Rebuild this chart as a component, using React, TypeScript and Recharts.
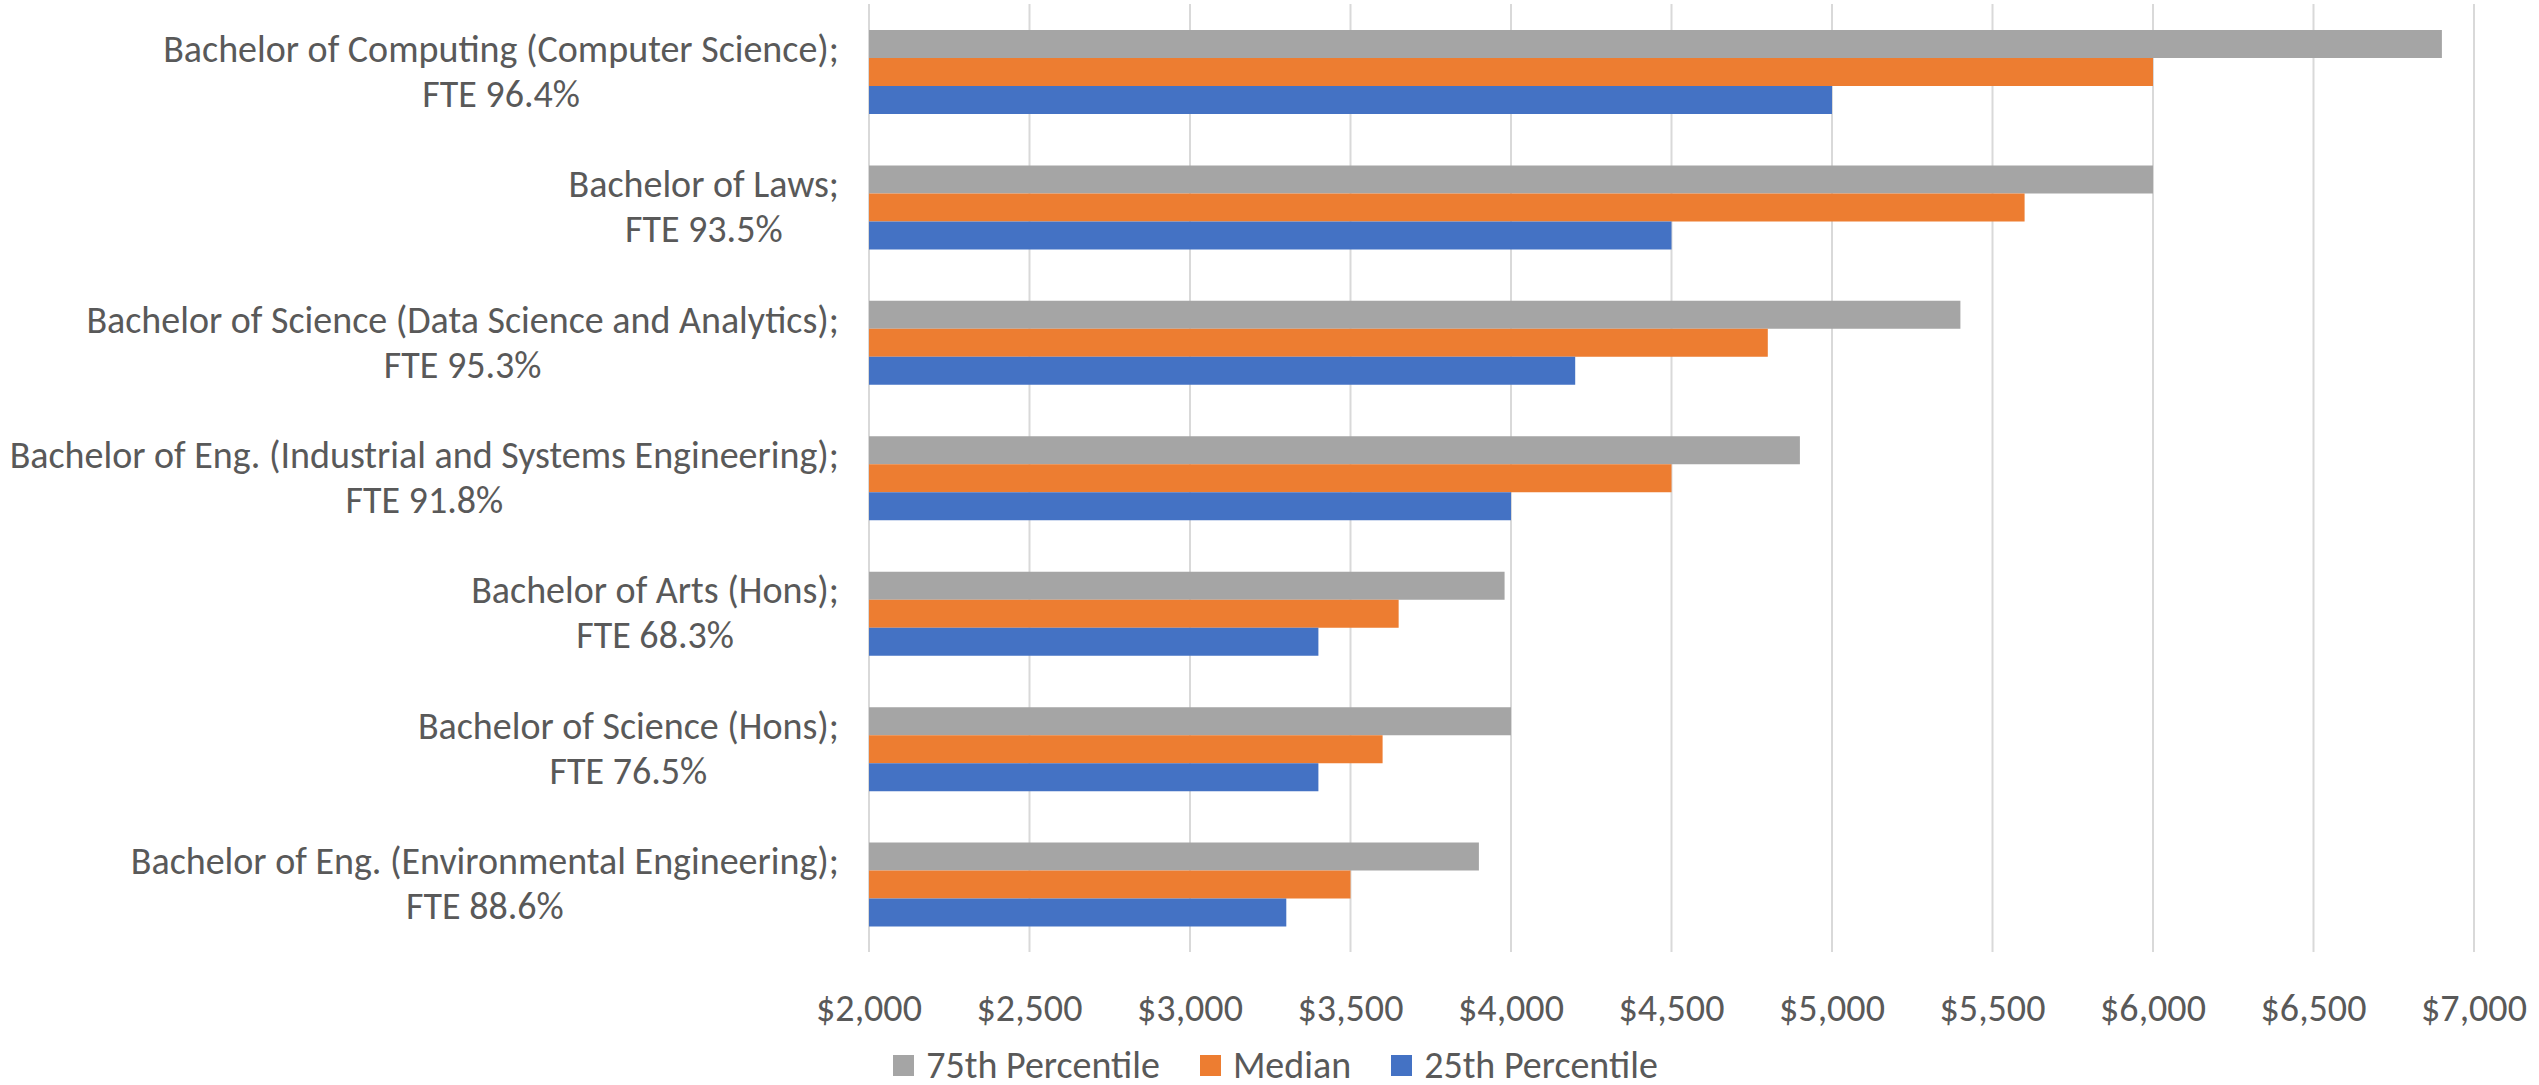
import React from 'react';
import { BarChart, Bar, XAxis, YAxis, CartesianGrid, Legend } from 'recharts';

const FONT = "Carlito, Calibri, 'Liberation Sans Narrow', 'DejaVu Sans Condensed', Lato, sans-serif";
const TEXT = '#595959';
const FS = 38;

// programmes and their full-time employment rates (top to bottom)
const programmes = [
  'Bachelor of Computing (Computer Science)',
  'Bachelor of Laws',
  'Bachelor of Science (Data Science and Analytics)',
  'Bachelor of Eng. (Industrial and Systems Engineering)',
  'Bachelor of Arts (Hons)',
  'Bachelor of Science (Hons)',
  'Bachelor of Eng. (Environmental Engineering)',
];
const fteRates = ['96.4%', '93.5%', '95.3%', '91.8%', '68.3%', '76.5%', '88.6%'];

// gross monthly salary
const p75 = [6900, 6000, 5400, 4900, 3980, 4000, 3900];
const median = [6000, 5600, 4800, 4500, 3650, 3600, 3500];
const p25 = [5000, 4500, 4200, 4000, 3400, 3400, 3300];

const xTicks = [2000, 2500, 3000, 3500, 4000, 4500, 5000, 5500, 6000, 6500, 7000];

const series = [
  { key: 'p75', name: '75th Percentile', color: '#A5A5A5' },
  { key: 'median', name: 'Median', color: '#ED7D31' },
  { key: 'p25', name: '25th Percentile', color: '#4472C4' },
];

const data = programmes.map((name, i) => ({
  name,
  fte: fteRates[i],
  p75: p75[i],
  median: median[i],
  p25: p25[i],
}));

let ctx: CanvasRenderingContext2D | null = null;
const measure = (s: string, size: number) => {
  if (!ctx) ctx = document.createElement('canvas').getContext('2d');
  if (!ctx) return s.length * size * 0.45;
  ctx.font = `${size}px ${FONT}`;
  return ctx.measureText(s).width;
};

const ProgrammeTick = (props: any) => {
  const { x, y, payload } = props;
  const i = programmes.indexOf(payload.value);
  const lines = [payload.value + ';', 'FTE ' + fteRates[i]];
  const w = Math.max(...lines.map((l) => measure(l, FS)));
  const cx = x - w / 2;
  return (
    <g>
      <text x={cx} y={y - 10} textAnchor="middle" fill={TEXT} fontSize={FS} fontFamily={FONT}>
        {lines[0]}
      </text>
      <text x={cx} y={y + 35} textAnchor="middle" fill={TEXT} fontSize={FS} fontFamily={FONT}>
        {lines[1]}
      </text>
    </g>
  );
};

const money = (v: number) => '$' + v.toLocaleString('en-US');

const LegendBox = () => (
  <div style={{ display: 'flex', justifyContent: 'center', paddingLeft: 52, paddingTop: 20, fontFamily: FONT, fontSize: FS, color: TEXT, lineHeight: '40px' }}>
    {series.map((s) => (
      <div key={s.key} style={{ display: 'flex', alignItems: 'center', marginRight: 40 }}>
        <span style={{ display: 'inline-block', width: 21, height: 21, background: s.color, marginRight: 12 }} />
        <span>{s.name}</span>
      </div>
    ))}
  </div>
);

export default function App() {
  return (
    <div style={{ width: 2539, height: 1085, background: '#fff' }}>
      <style>{'body{margin:0}'}</style>
      <BarChart
        width={2539}
        height={1085}
        data={data}
        layout="vertical"
        margin={{ top: 4, right: 65, left: 0, bottom: 0 }}
        barGap={0}
      >
        <CartesianGrid horizontal={false} stroke="#D9D9D9" strokeWidth={2} />
        <XAxis
          type="number"
          domain={[2000, 7000]}
          ticks={xTicks}
          allowDataOverflow
          tickFormatter={money}
          axisLine={false}
          tickLine={false}
          tickSize={0}
          tickMargin={42}
          height={73}
          tick={{ fill: TEXT, fontSize: FS, fontFamily: FONT }}
        />
        <YAxis
          type="category"
          dataKey="name"
          width={869}
          axisLine={false}
          tickLine={false}
          tickSize={0}
          tickMargin={30}
          tick={<ProgrammeTick />}
          interval={0}
        />
        <Legend verticalAlign="bottom" height={60} content={<LegendBox />} wrapperStyle={{ left: 0, width: 2539 }} />
        {series.map((s) => (
          <Bar key={s.key} dataKey={s.key} name={s.name} fill={s.color} barSize={28} isAnimationActive={false} />
        ))}
      </BarChart>
    </div>
  );
}
